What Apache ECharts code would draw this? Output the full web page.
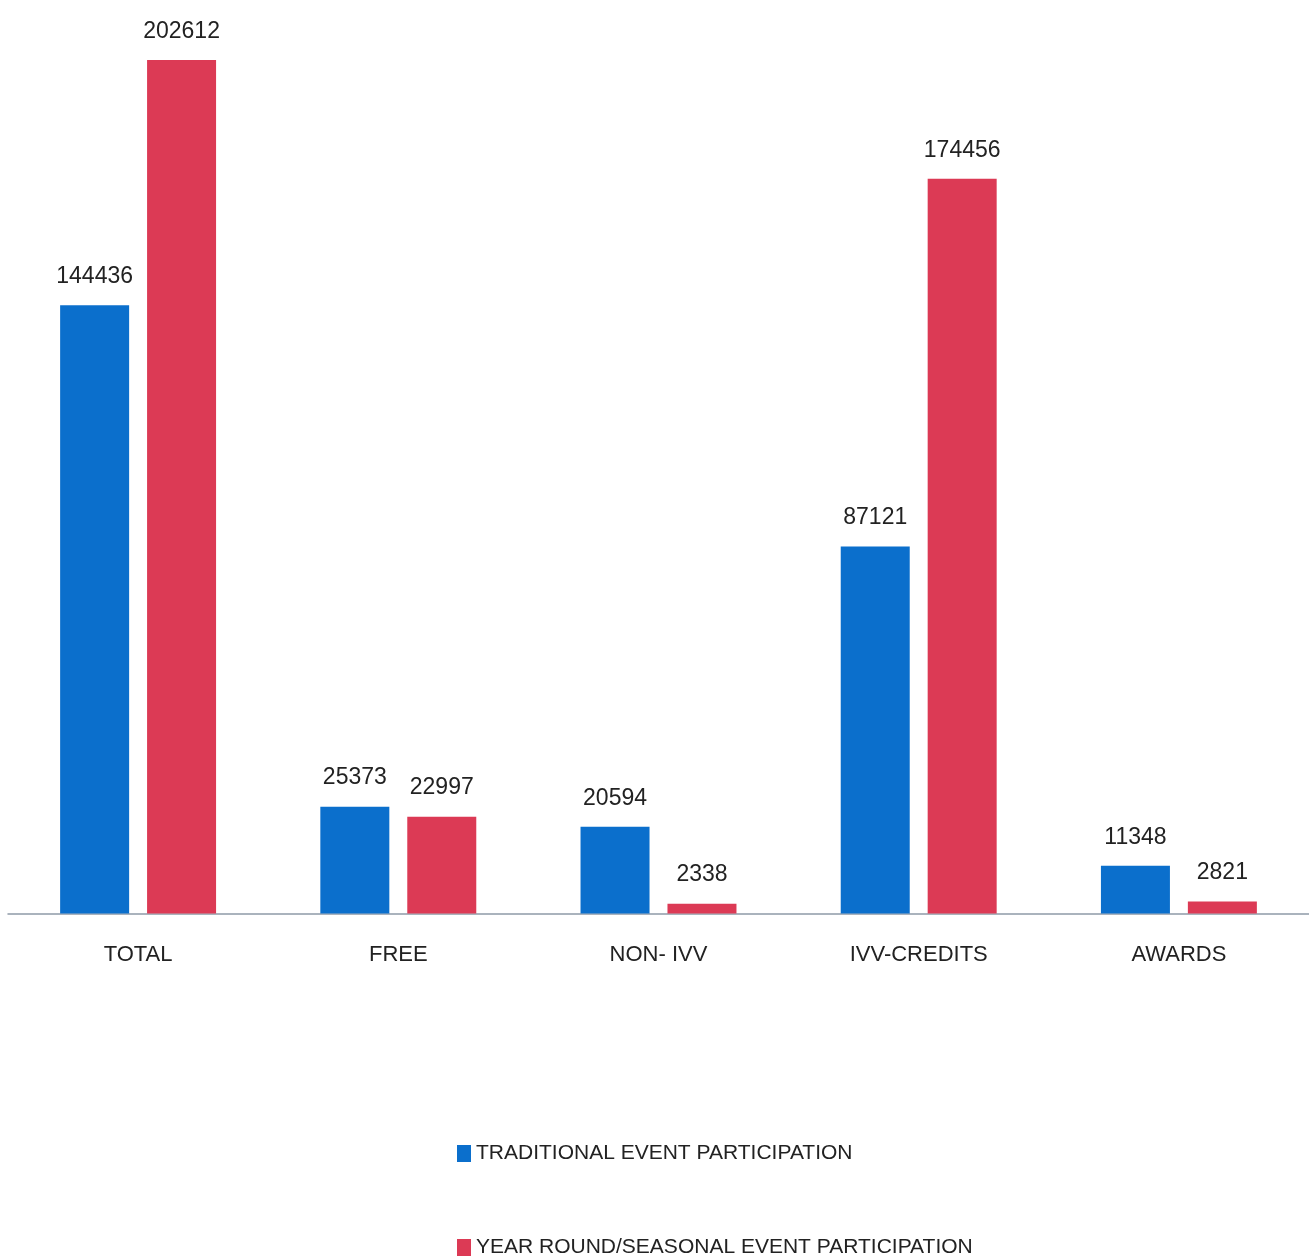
<!DOCTYPE html>
<html>
<head>
<meta charset="utf-8">
<script src="https://cdn.jsdelivr.net/npm/echarts@6/dist/echarts.min.js"></script>
<style>
html,body{margin:0;padding:0;background:#fff;}
#chart{width:1309px;height:1258px;}
</style>
</head>
<body>
<div id="chart"></div>
<script>
const categories = ['TOTAL', 'FREE', 'NON- IVV', 'IVV-CREDITS', 'AWARDS'];
const seriesNames = ['TRADITIONAL EVENT PARTICIPATION', 'YEAR ROUND/SEASONAL EVENT PARTICIPATION'];
const traditional = [144436, 25373, 20594, 87121, 11348];
const yearRound = [202612, 22997, 2338, 174456, 2821];

const FONT = "'Liberation Sans', Arial, sans-serif";
const chart = echarts.init(document.getElementById('chart'), null, {renderer: 'canvas'});
const labelStyle = {
  show: true, position: 'top', distance: 17,
  color: '#222222', fontFamily: FONT, fontSize: 23
};
const legendText = {color: '#222222', fontFamily: FONT, fontSize: 21};
chart.setOption({
  backgroundColor: '#ffffff',
  animation: false,
  grid: {left: 8, right: -4, top: 29, bottom: 344.5, containLabel: false},
  legend: [
    {
      left: 452, top: 1138,
      itemWidth: 14, itemHeight: 17, itemGap: 4,
      icon: 'rect',
      textStyle: legendText,
      data: [seriesNames[0]]
    },
    {
      left: 452, top: 1232,
      itemWidth: 14, itemHeight: 17, itemGap: 4,
      icon: 'rect',
      textStyle: legendText,
      data: [seriesNames[1]]
    }
  ],
  xAxis: {
    type: 'category',
    data: categories,
    axisLine: {lineStyle: {color: '#8e9aa8', width: 1.5}},
    axisTick: {show: false},
    axisLabel: {color: '#222222', fontFamily: FONT, fontSize: 22, margin: 30}
  },
  yAxis: {
    type: 'value', min: 0, max: 210000,
    show: false,
    splitLine: {show: false}
  },
  series: [
    {name: seriesNames[0], type: 'bar', data: traditional, barWidth: 69, barGap: '26%',
     itemStyle: {color: '#0b6fcc'}, label: labelStyle},
    {name: seriesNames[1], type: 'bar', data: yearRound, barWidth: 69,
     itemStyle: {color: '#dc3a55'}, label: labelStyle}
  ]
});
</script>
</body>
</html>
